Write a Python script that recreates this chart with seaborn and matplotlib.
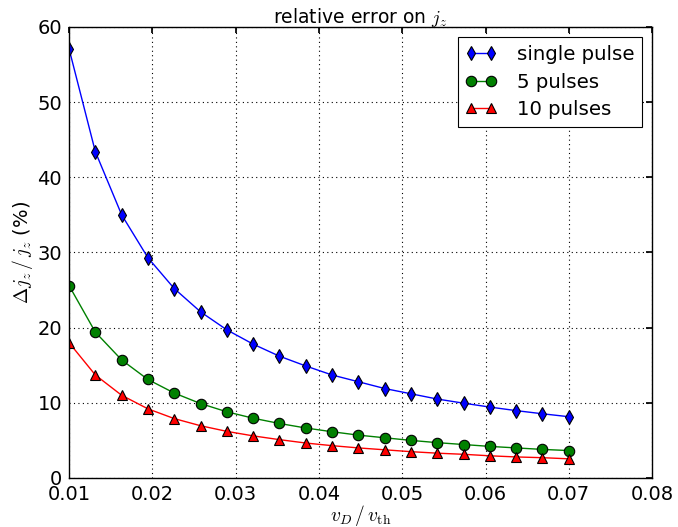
import numpy as np
import pandas as pd
import matplotlib
matplotlib.use("Agg")
import matplotlib.pyplot as plt
import seaborn as sns

# drift velocity over thermal velocity
v_ratio = [0.01, 0.01316, 0.01632, 0.01947, 0.02263, 0.02579, 0.02895,
           0.03211, 0.03526, 0.03842, 0.04158, 0.04474, 0.04789, 0.05105,
           0.05421, 0.05737, 0.06053, 0.06368, 0.06684, 0.07]

# relative error on j_z (%)
single_pulse = [57.1, 43.4, 35.0, 29.3, 25.2, 22.1, 19.7, 17.8, 16.2, 14.9,
                13.7, 12.8, 11.9, 11.2, 10.5, 9.95, 9.43, 8.96, 8.54, 8.15]
five_pulses = [25.6, 19.4, 15.7, 13.1, 11.3, 9.9, 8.8, 7.95, 7.25, 6.65,
               6.15, 5.7, 5.35, 5.0, 4.7, 4.45, 4.2, 4.0, 3.8, 3.65]
ten_pulses = [18.0, 13.7, 11.0, 9.2, 7.9, 6.95, 6.2, 5.6, 5.1, 4.65,
              4.3, 4.0, 3.75, 3.5, 3.3, 3.15, 2.95, 2.8, 2.7, 2.55]

series_names = ["single pulse", "5 pulses", "10 pulses"]
x_ticks = [0.01, 0.02, 0.03, 0.04, 0.05, 0.06, 0.07, 0.08]
y_ticks = [0, 10, 20, 30, 40, 50, 60]

sns.set_theme(style="white")
plt.rcParams.update({
    "font.family": ["DejaVu Sans"],
    "mathtext.fontset": "cm",
    "axes.edgecolor": "black",
    "axes.linewidth": 1.0,
    "xtick.direction": "in",
    "ytick.direction": "in",
    "xtick.top": True,
    "ytick.right": True,
    "xtick.major.size": 4,
    "ytick.major.size": 4,
    "xtick.color": "black",
    "ytick.color": "black",
    "text.color": "black",
    "axes.labelcolor": "black",
})

df = pd.DataFrame({
    "v": v_ratio * 3,
    "err": single_pulse + five_pulses + ten_pulses,
    "case": [series_names[0]] * len(v_ratio)
            + [series_names[1]] * len(v_ratio)
            + [series_names[2]] * len(v_ratio),
})

fig = plt.figure(figsize=(6.78, 5.27), dpi=100)
ax = fig.add_axes([0.1018, 0.093, 0.86, 0.856])

styles = [("#0000ff", "d"), ("#008000", "o"), ("#ff0000", "^")]
for name, (color, marker) in zip(series_names, styles):
    sub = df[df["case"] == name]
    sns.lineplot(data=sub, x="v", y="err", ax=ax, color=color, marker=marker,
                 markersize=7.5, markeredgecolor="black", markeredgewidth=0.8,
                 linewidth=1.0, label=name, estimator=None, sort=False)

ax.set_xlim(0.01, 0.08)
ax.set_ylim(0, 60)
ax.set_xticks(x_ticks)
ax.set_xticklabels([f"{t:.2f}" for t in x_ticks])
ax.set_yticks(y_ticks)
ax.tick_params(labelsize=14, pad=5)
ax.grid(True, color="black", linestyle=(0, (1, 3)), linewidth=0.8)

ax.set_title(r"relative error on $j_z$", fontsize=13.5, pad=3)
ax.set_xlabel(r"$v_D\,/\,v_{\rm th}$", fontsize=14, labelpad=-1)
ax.set_ylabel(r"$\Delta j_z\,/\,j_z$ (%)", fontsize=14, labelpad=2)

leg = ax.legend(loc="upper right", fontsize=14.2, numpoints=2, fancybox=False,
                framealpha=1, edgecolor="black", borderaxespad=0.5,
                handlelength=1.6, handletextpad=1.0, labelspacing=0.45,
                borderpad=0.4)
leg.get_frame().set_linewidth(0.8)

fig.savefig("out.png", dpi=100)
